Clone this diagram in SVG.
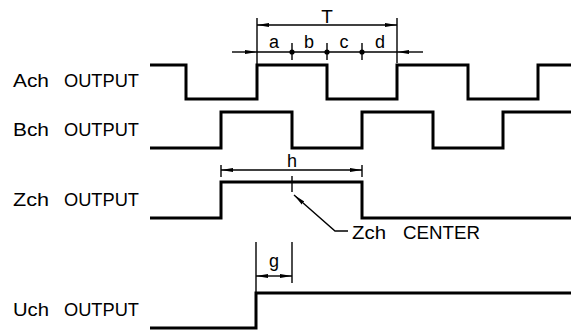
<svg xmlns="http://www.w3.org/2000/svg" width="571" height="332" viewBox="0 0 571 332">
<style>
.wave{fill:none;stroke:#000;stroke-width:3;stroke-linejoin:miter}
.dim{fill:none;stroke:#000;stroke-width:1.4}
.lbl{font-family:"Liberation Sans",Arial,sans-serif;font-size:18px;fill:#000}
.sm{font-family:"Liberation Sans",Arial,sans-serif;font-size:18px;fill:#000;text-anchor:middle}
</style>
<defs>
<marker id="arr" viewBox="0 0 12 6" refX="12" refY="3" markerWidth="12" markerHeight="6" markerUnits="userSpaceOnUse" orient="auto">
<path d="M0,1 L12,3 L0,5 Z" fill="#000"/>
</marker>
</defs>
<rect width="571" height="332" fill="#fff"/>
<g id="ach">
<text class="lbl" y="87"><tspan x="13" textLength="36" lengthAdjust="spacingAndGlyphs">Ach</tspan><tspan x="64" textLength="75" lengthAdjust="spacingAndGlyphs">OUTPUT</tspan></text>
<path class="wave" d="M150,65 H186 V99 H257 V65 H327 V99 H397 V65 H468 V99 H538 V65 H571"/>
</g>
<g id="bch">
<text class="lbl" y="136"><tspan x="13" textLength="36" lengthAdjust="spacingAndGlyphs">Bch</tspan><tspan x="64" textLength="75" lengthAdjust="spacingAndGlyphs">OUTPUT</tspan></text>
<path class="wave" d="M150,148 H221 V112 H292 V148 H362 V112 H433 V148 H503 V112 H571"/>
</g>
<g id="zch">
<text class="lbl" y="206"><tspan x="13" textLength="36" lengthAdjust="spacingAndGlyphs">Zch</tspan><tspan x="64" textLength="75" lengthAdjust="spacingAndGlyphs">OUTPUT</tspan></text>
<path class="wave" d="M150,218 H221 V182 H362 V218 H571"/>
</g>
<g id="uch">
<text class="lbl" y="316"><tspan x="13" textLength="36" lengthAdjust="spacingAndGlyphs">Uch</tspan><tspan x="64" textLength="75" lengthAdjust="spacingAndGlyphs">OUTPUT</tspan></text>
<path class="wave" d="M150,328 H256 V293 H571"/>
</g>
<g id="dim-T">
<text class="sm" x="327" y="23" style="font-size:19px">T</text>
<line class="dim" x1="257" y1="18" x2="257" y2="64"/>
<line class="dim" x1="397" y1="18" x2="397" y2="63"/>
<line class="dim" x1="327" y1="25" x2="257" y2="25" marker-end="url(#arr)"/>
<line class="dim" x1="327" y1="25" x2="397" y2="25" marker-end="url(#arr)"/>
</g>
<g id="dim-abcd">
<line class="dim" x1="232" y1="52" x2="257" y2="52" marker-end="url(#arr)"/>
<line class="dim" x1="423" y1="52" x2="397" y2="52" marker-end="url(#arr)"/>
<line class="dim" x1="257" y1="52" x2="397" y2="52"/>
<line class="dim" x1="292" y1="43" x2="292" y2="60"/>
<line class="dim" x1="327" y1="43" x2="327" y2="60"/>
<line class="dim" x1="362" y1="43" x2="362" y2="60"/>
<circle cx="292" cy="52" r="2.6"/>
<circle cx="327" cy="52" r="2.6"/>
<circle cx="362" cy="52" r="2.6"/>
<text class="sm" x="274" y="48">a</text>
<text class="sm" x="309" y="48">b</text>
<text class="sm" x="344" y="48">c</text>
<text class="sm" x="380" y="48">d</text>
</g>
<g id="dim-h">
<text class="sm" x="292" y="167">h</text>
<line class="dim" x1="221" y1="165" x2="221" y2="177"/>
<line class="dim" x1="362" y1="165" x2="362" y2="177"/>
<line class="dim" x1="292" y1="170" x2="221" y2="170" marker-end="url(#arr)"/>
<line class="dim" x1="292" y1="170" x2="362" y2="170" marker-end="url(#arr)"/>
<line class="dim" x1="292" y1="176" x2="292" y2="192"/>
</g>
<g id="zch-center">
<path class="dim" d="M348,231 H335 L294,195" marker-end="url(#arr)"/>
<text class="lbl" y="239"><tspan x="352" textLength="34" lengthAdjust="spacingAndGlyphs">Zch</tspan><tspan x="403" textLength="77" lengthAdjust="spacingAndGlyphs">CENTER</tspan></text>
</g>
<g id="dim-g">
<text class="sm" x="274" y="267">g</text>
<line class="dim" x1="256" y1="242" x2="256" y2="292"/>
<line class="dim" x1="292" y1="242" x2="292" y2="283"/>
<line class="dim" x1="274" y1="276" x2="256" y2="276" marker-end="url(#arr)"/>
<line class="dim" x1="274" y1="276" x2="292" y2="276" marker-end="url(#arr)"/>
</g>
</svg>
